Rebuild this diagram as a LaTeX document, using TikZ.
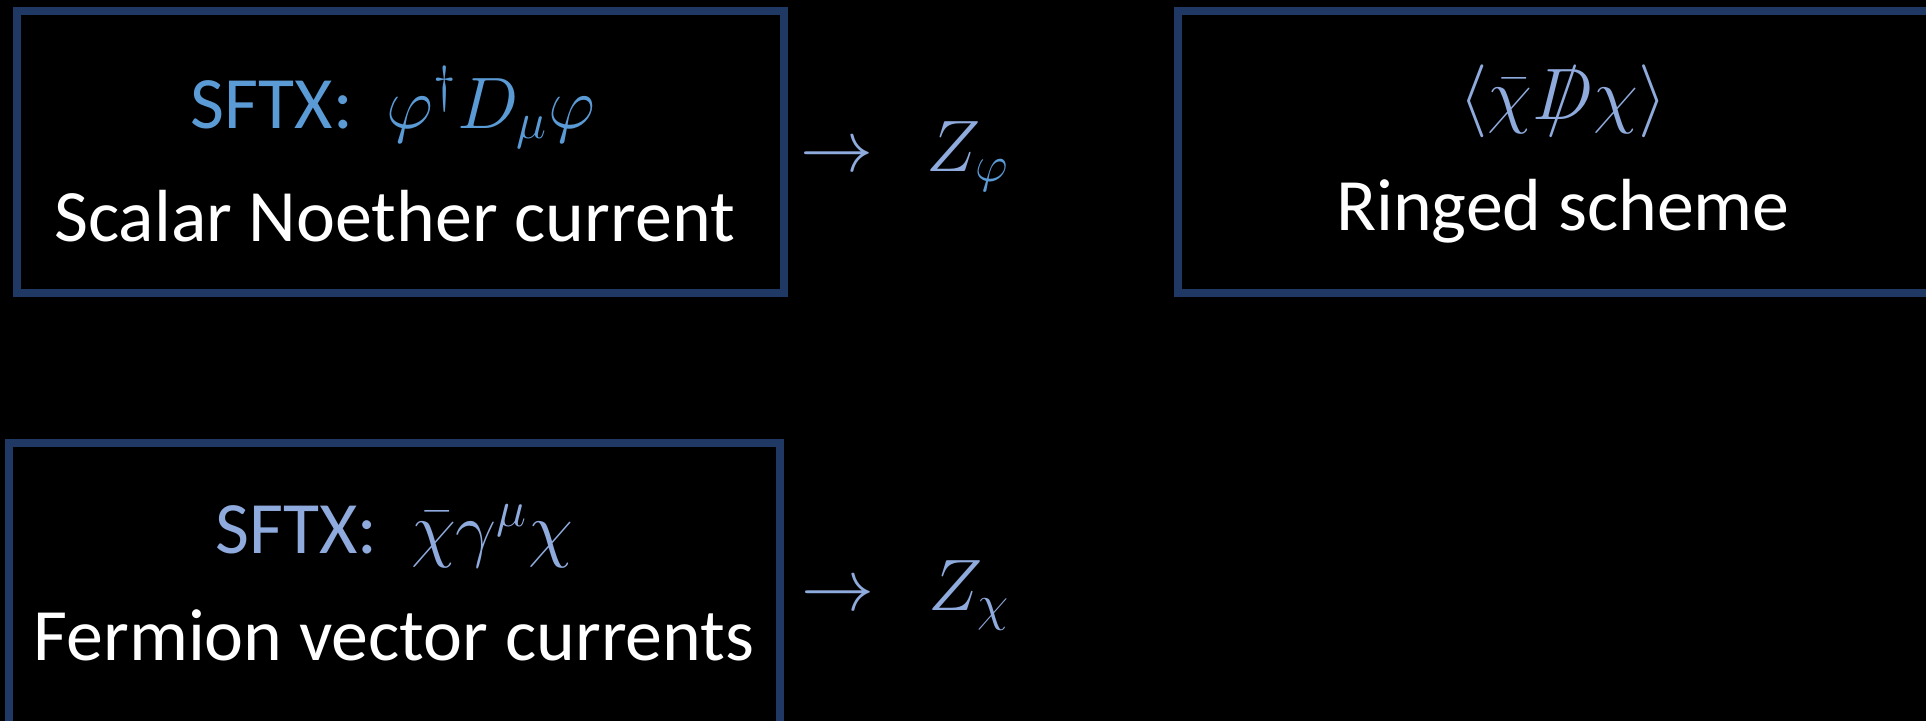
\documentclass[tikz,border=0pt]{standalone}
\usepackage{fontspec}
\setmainfont{Carlito}
\definecolor{frame}{RGB}{31,56,100}
\definecolor{skyblue}{RGB}{91,155,213}
\definecolor{lavender}{RGB}{143,170,220}
% slashed D (Feynman slash)
\newcommand{\slashD}{\mbox{\ooalign{$D$\cr\hidewidth$/$\hidewidth\cr}}}
\tikzset{
  panel/.style={draw=frame, line width=0.08cm, inner sep=0pt},
  caption/.style={text=white, anchor=base, inner sep=0pt, font=\fontsize{21}{25}\selectfont},
  formula/.style={anchor=base, inner sep=0pt, font=\fontsize{21}{25}\selectfont},
}
\begin{document}
\begin{tikzpicture}[x=0.01cm, y=-0.01cm]
  \useasboundingbox (0,0) rectangle (1926,721);
  \fill[black] (0,0) rectangle (1926,721);

  % framed panels
  \node[panel, minimum width=7.67cm, minimum height=2.82cm] (scalarbox) at (400.5,152) {};
  \node[panel, minimum width=7.82cm, minimum height=2.82cm] (ringedbox) at (1569,152) {};
  \node[panel, minimum width=7.71cm, minimum height=3.17cm] (fermionbox) at (394.5,601.5) {};

  % scalar current
  \node[formula, text=skyblue] (scalarop) at (393,128) {SFTX:\ \ $\varphi^\dagger D_\mu\varphi$};
  \node[caption] (scalarname) at (394.5,241) {Scalar Noether current};
  \node[formula, text=lavender] (zphi) at (905,171) {$\rightarrow\ \ Z_{\textcolor{skyblue}{\varphi}}$};

  % ringed scheme
  \node[formula, text=lavender] (ringedop) at (1563,120) {$\langle\bar\chi\slashD\chi\rangle$};
  \node[caption] (ringedname) at (1563,230) {Ringed scheme};

  % fermion current
  \node[formula, text=lavender] (fermionop) at (394.5,553) {SFTX:\ \ $\bar\chi\gamma^\mu\chi$};
  \node[caption] (fermionname) at (394,660) {Fermion vector currents};
  \node[formula, text=lavender] (zchi) at (906,610) {$\rightarrow\ \ Z_\chi$};
\end{tikzpicture}
\end{document}
